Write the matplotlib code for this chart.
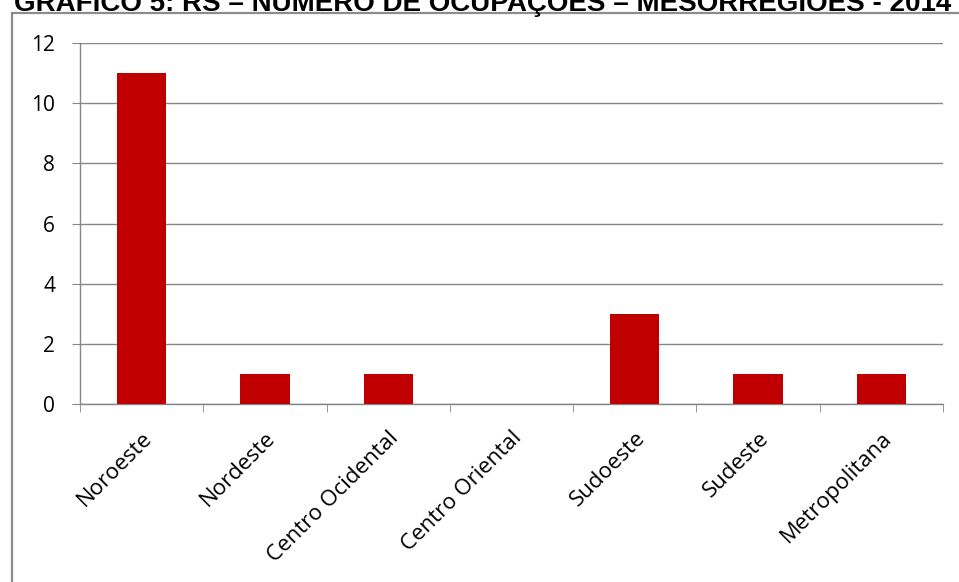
import matplotlib.pyplot as plt
from matplotlib.patches import Rectangle
from matplotlib.transforms import ScaledTranslation

regioes = ['Noroeste', 'Nordeste', 'Centro Ocidental', 'Centro Oriental',
           'Sudoeste', 'Sudeste', 'Metropolitana']
ocupacoes = [11, 1, 1, 0, 3, 1, 1]
titulo = 'GRÁFICO 5: RS – NÚMERO DE OCUPAÇÕES – MESORREGIÕES - 2014'

W, H = 959, 582
fig = plt.figure(figsize=(W / 100, H / 100), dpi=100)

# moldura cinza do gráfico (corta nas bordas da figura)
fig.patches.append(Rectangle((12 / W, -0.05), 1.0, 1 - 13 / H + 0.05,
                             transform=fig.transFigure, fill=False,
                             edgecolor='#8c8c8c', linewidth=1.6))

# titulo cortado no topo, como na imagem original
fig.text(483 / W, 1 - 11 / H, titulo, ha='center', va='baseline',
         fontsize=20, fontweight='bold', family='Liberation Sans')

ax = fig.add_axes([80 / W, 1 - 404 / H, (943 - 80) / W, (404 - 43) / H])
x = range(len(regioes))
ax.bar(x, ocupacoes, width=0.4, color='#C00000', zorder=3)

ax.set_xlim(-0.5, len(regioes) - 0.5)
ax.set_ylim(0, 12)
ax.set_yticks(range(0, 13, 2))
ax.grid(axis='y', color='#868686', linewidth=1, zorder=0)

for s in ['top', 'right']:
    ax.spines[s].set_visible(False)
for s in ['left', 'bottom']:
    ax.spines[s].set_color('#868686')
    ax.spines[s].set_linewidth(1)

ax.set_xticks(list(x))
ax.set_xticklabels(regioes, rotation=45, ha='right', va='top',
                   rotation_mode='anchor', fontsize=16, family='Open Sans')
shift = ScaledTranslation(8 / 100, 0, fig.dpi_scale_trans)
for lab in ax.get_xticklabels():
    lab.set_transform(lab.get_transform() + shift)
ax.tick_params(axis='x', which='major', length=0, pad=17)
ax.set_xticks([i - 0.5 for i in range(len(regioes) + 1)], minor=True)
ax.tick_params(axis='x', which='minor', length=6, color='#868686')
ax.tick_params(axis='y', length=6, color='#868686', pad=12, labelsize=15)
for lab in ax.get_yticklabels():
    lab.set_family('Open Sans')

fig.savefig('out.png', dpi=100)
